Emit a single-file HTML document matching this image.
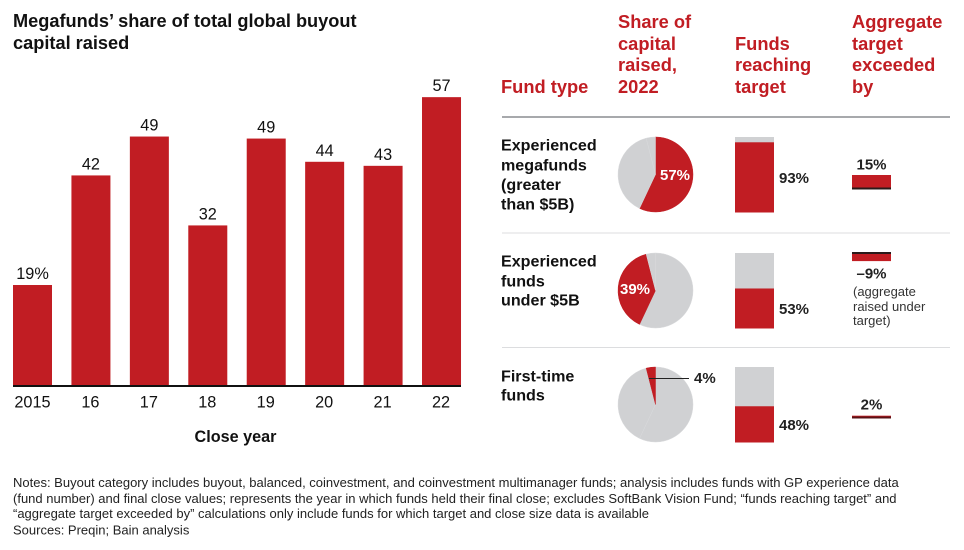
<!DOCTYPE html>
<html lang="en">
<head>
<meta charset="utf-8">
<title>Megafunds' share of total global buyout capital raised</title>
<style>
html,body{margin:0;padding:0;background:#fff;}
#chart{display:block;width:964px;height:550px;font-family:"Liberation Sans",sans-serif;}
</style>
</head>
<body>
<svg id="chart" xmlns="http://www.w3.org/2000/svg" width="964" height="550" viewBox="0 0 964 550">
  <g font-size="18.2" font-weight="700" fill="#111">
    <text x="13" y="27">Megafunds’ share of total global buyout</text>
    <text x="13" y="49">capital raised</text>
  </g>
  <g id="bars"></g>
  <text x="235.500" y="442" text-anchor="middle" font-size="16.200" font-weight="700" fill="#111">Close year</text>

  <g font-size="18.300" font-weight="700" fill="#c11d23">
    <text x="501" y="93">Fund type</text>
    <g>
      <text x="618" y="28">Share of</text><text x="618" y="50">capital</text><text x="618" y="71">raised,</text><text x="618" y="93">2022</text>
    </g>
    <g>
      <text x="735" y="50">Funds</text><text x="735" y="71">reaching</text><text x="735" y="93">target</text>
    </g>
    <g>
      <text x="852" y="28">Aggregate</text><text x="852" y="50">target</text><text x="852" y="71">exceeded</text><text x="852" y="93">by</text>
    </g>
  </g>
  <rect x="502" y="116" width="448" height="2" fill="#a7a9ac"/>
  <rect x="502" y="232.500" width="448" height="1" fill="#dcdddf"/>
  <rect x="502" y="347" width="448" height="1" fill="#dcdddf"/>

  <g font-size="16.100" font-weight="700" fill="#111">
    <g>
      <text x="501" y="150.500">Experienced</text><text x="501" y="170.500">megafunds</text><text x="501" y="190">(greater</text><text x="501" y="209.500">than $5B)</text>
    </g>
    <g>
      <text x="501" y="266.500">Experienced</text><text x="501" y="286.500">funds</text><text x="501" y="305.500">under $5B</text>
    </g>
    <g>
      <text x="501" y="381.500">First-time</text><text x="501" y="400.500">funds</text>
    </g>
  </g>

  <g id="pies"></g>
  <g id="stacks"></g>
  <g id="aggregate"></g>

  <g font-size="13" fill="#333">
    <text x="853" y="296">(aggregate</text><text x="853" y="311">raised under</text><text x="853" y="325">target)</text>
  </g>

  <g font-size="13" fill="#222">
    <text x="13" y="487">Notes: Buyout category includes buyout, balanced, coinvestment, and coinvestment multimanager funds; analysis includes funds with GP experience data</text>
    <text x="13" y="503">(fund number) and final close values; represents the year in which funds held their final close; excludes SoftBank Vision Fund; “funds reaching target” and</text>
    <text x="13" y="518">“aggregate target exceeded by” calculations only include funds for which target and close size data is available</text>
    <text x="13" y="534.500">Sources: Preqin; Bain analysis</text>
  </g>
</svg>
<script>
var years = ['2015', '16', '17', '18', '19', '20', '21', '22'];
var shareValues = [19.8, 41.5, 49.2, 31.6, 48.8, 44.2, 43.4, 57];
var shareLabels = ['19%', '42', '49', '32', '49', '44', '43', '57'];

var capitalShare = [57, 39, 4];
var capitalShareLabels = ['57%', '39%', '4%'];
var reachingTarget = [93, 53, 48];
var reachingTargetLabels = ['93%', '53%', '48%'];
var aggregateExceeded = [15, -9, 2];
var aggregateLabels = ['15%', '–9%', '2%'];

var NS = 'http://www.w3.org/2000/svg';
function make(parent, tag, attrs, text) {
  var el = document.createElementNS(NS, tag);
  for (var k in attrs) { el.setAttribute(k, attrs[k]); }
  if (text !== undefined) { el.textContent = text; }
  parent.appendChild(el);
  return el;
}

var RED = '#c11d23', GREY = '#d0d1d3', INK = '#111';

/* bar chart axes */
var baseY = 385;
function xBand(i) { return 13 + i * 58.43; }
var barW = 39;
function yVal(v) { return baseY - v * 5.05; }

var barsG = document.getElementById('bars');
years.forEach(function (year, i) {
  var top = yVal(shareValues[i]);
  var bar = make(barsG, 'rect', { x: xBand(i), y: top, width: barW, height: baseY - top, fill: RED });
  
  
  var val = make(barsG, 'text', { x: xBand(i) + barW / 2, y: top - 6, 'text-anchor': 'middle', 'font-size': 16.3, fill: INK }, shareLabels[i]);
  
  
  var tick = make(barsG, 'text', { x: xBand(i) + barW / 2 + (i === 0 ? 0 : -0.5), y: 407.5, 'text-anchor': 'middle', 'font-size': 16.3, fill: INK }, year);
  
  
});
var axis = make(barsG, 'rect', { x: 13, y: baseY, width: 448, height: 2, fill: '#111' });



/* pies: every pie shows the same three slices, one highlighted */
var pieCx = 655.5, pieR = 37.5;
var pieCy = [174.5, 290.5, 404.5];
function pct2xy(cy, p) {
  var a = p / 100 * 2 * Math.PI;
  return [pieCx + pieR * Math.sin(a), cy - pieR * Math.cos(a)];
}
var piesG = document.getElementById('pies');
capitalShare.forEach(function (_, row) {
  var cum = 0;
  var cy = pieCy[row];
  capitalShare.forEach(function (v, s) {
    var a = pct2xy(cy, cum), b = pct2xy(cy, cum + v);
    var large = v > 50 ? 1 : 0;
    var d = 'M' + pieCx + ' ' + cy + 'L' + a[0] + ' ' + a[1] + 'A' + pieR + ' ' + pieR + ' 0 ' + large + ' 1 ' + b[0] + ' ' + b[1] + 'Z';
    var slice = make(piesG, 'path', { d: d, fill: s === row ? RED : GREY, stroke: s === row ? RED : '#d9dadc', 'stroke-width': 0.5 });
    
    
    cum += v;
  });
});
var l1 = make(piesG, 'text', { x: 675, y: 180, 'text-anchor': 'middle', 'font-size': 15, 'font-weight': 700, fill: '#fff' }, capitalShareLabels[0]);


var l2 = make(piesG, 'text', { x: 635, y: 294, 'text-anchor': 'middle', 'font-size': 15, 'font-weight': 700, fill: '#fff' }, capitalShareLabels[1]);


var leader = make(piesG, 'line', { x1: 649, y1: 378.5, x2: 689, y2: 378.5, stroke: '#222', 'stroke-width': 1 });


var l3 = make(piesG, 'text', { x: 694, y: 383, 'font-size': 15, 'font-weight': 700, fill: '#222' }, capitalShareLabels[2]);



/* stacked 100% bars */
var stackTop = [137, 253, 367];
var stackH = 75.5;
var stackX = 735, stackW = 39;
var stackLabelOffset = [46, 61, 63];
function stackY(row, v) { return stackTop[row] + stackH * (1 - v / 100); }
var stacksG = document.getElementById('stacks');
reachingTarget.forEach(function (v, row) {
  var bg = make(stacksG, 'rect', { x: stackX, y: stackTop[row], width: stackW, height: stackH, fill: GREY });
  
  
  var y = stackY(row, v);
  var fg = make(stacksG, 'rect', { x: stackX, y: y, width: stackW, height: stackTop[row] + stackH - y, fill: RED });
  
  
  var t = make(stacksG, 'text', { x: 779, y: stackTop[row] + stackLabelOffset[row], 'font-size': 15, 'font-weight': 700, fill: '#222' }, reachingTargetLabels[row]);
  
  
});

/* aggregate target bars: zero line + signed bar */
var aggZero = [188.5, 253, 417.5];
var aggX = 852, aggW = 39;
function aggH(v) { return Math.abs(v) * 0.9; }
var aggG = document.getElementById('aggregate');
aggregateExceeded.forEach(function (v, row) {
  var h = aggH(v);
  var z = aggZero[row];
  var bar = make(aggG, 'rect', { x: aggX, y: v >= 0 ? z - h : z, width: aggW, height: h, fill: RED });
  
  
  var line = make(aggG, 'rect', { x: aggX, y: z - 1, width: aggW, height: 2, fill: row === 2 ? '#5a1216' : '#2a1a1a' });
  
  
  var ty = v >= 0 ? z - h - 5.5 : z + h + 17.5;
  if (row === 2) { ty = z - 8; }
  var t = make(aggG, 'text', { x: aggX + aggW / 2, y: ty, 'text-anchor': 'middle', 'font-size': 15, 'font-weight': 700, fill: '#222' }, aggregateLabels[row]);
  
  
});
</script>
</body>
</html>
